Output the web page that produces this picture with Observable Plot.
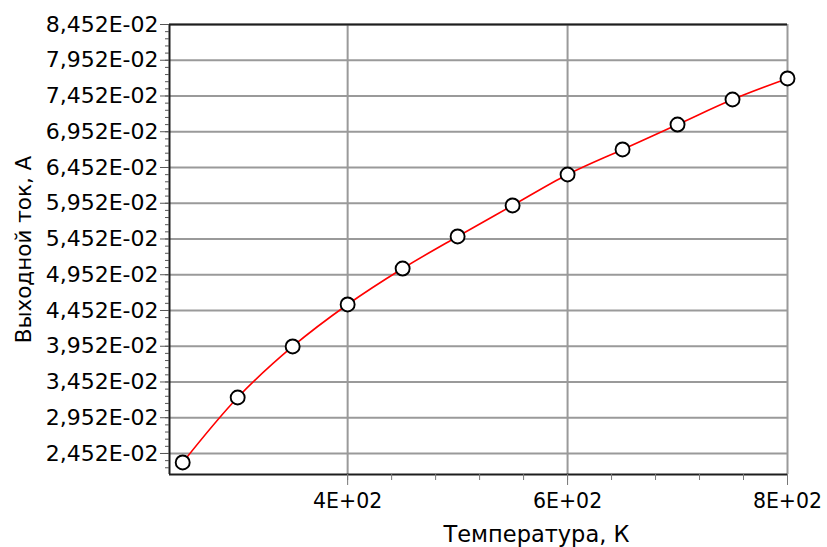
<!DOCTYPE html>
<html>
<head>
<meta charset="utf-8">
<script src="https://cdn.jsdelivr.net/npm/d3@7"></script>
<script src="https://cdn.jsdelivr.net/npm/@observablehq/plot@0.6"></script>
<style>
  html, body { margin: 0; padding: 0; background: #fff; }
  #chart svg { display: block; }
</style>
</head>
<body>
<div id="chart"></div>
<script>
// Data
const temperatureK = [250, 300, 350, 400, 450, 500, 550, 600, 650, 700, 750, 800];
const currentA = [0.02326, 0.03235, 0.03949, 0.04536, 0.05039, 0.05487, 0.05921, 0.06354, 0.06704, 0.07053, 0.07403, 0.07697];

const yTickValues = [0.02452, 0.02952, 0.03452, 0.03952, 0.04452, 0.04952, 0.05452, 0.05952, 0.06452, 0.06952, 0.07452, 0.07952, 0.08452];
const yTickLabels = ["2,452E-02", "2,952E-02", "3,452E-02", "3,952E-02", "4,452E-02", "4,952E-02", "5,452E-02", "5,952E-02", "6,452E-02", "6,952E-02", "7,452E-02", "7,952E-02", "8,452E-02"];
const xTickValues = [400, 600, 800];
const xTickLabels = ["4E+02", "6E+02", "8E+02"];

const xLabel = "Температура, К";
const yLabel = "Выходной ток, А";

const xDomain = [238, 800];
const yDomain = [0.02158, 0.08452];

const yMinor = d3.range(0.02252, 0.08452, 0.001).filter(v => v >= yDomain[0]);
const xMinor = d3.range(400, 801, 40);

const data = temperatureK.map((t, i) => ({t, c: currentA[i]}));
const yLab = new Map(yTickValues.map((v, i) => [v, yTickLabels[i]]));
const xLab = new Map(xTickValues.map((v, i) => [v, xTickLabels[i]]));

const font = "'DejaVu Sans', sans-serif";
const gridColor = "#9a9a9a";
const frameColor = "#1e1e1e";

const chart = Plot.plot({
  width: 827,
  height: 547,
  marginLeft: 169,
  marginRight: 40,
  marginTop: 24,
  marginBottom: 73,
  style: {fontFamily: font, fontSize: "20px", color: "#000", background: "#fff"},
  x: {domain: xDomain},
  y: {domain: yDomain},
  marks: [
    Plot.gridY(yTickValues, {stroke: gridColor, strokeOpacity: 1, strokeWidth: 2}),
    Plot.gridX(xTickValues, {stroke: gridColor, strokeOpacity: 1, strokeWidth: 2}),
    Plot.ruleY([yDomain[1]], {stroke: frameColor, strokeWidth: 2}),
    Plot.ruleY([yDomain[0]], {stroke: frameColor, strokeWidth: 2}),
    Plot.ruleX([xDomain[0]], {stroke: frameColor, strokeWidth: 2}),
    Plot.axisY({ticks: yMinor, tickSize: 4, tickFormat: () => "", label: null, stroke: "#555"}),
    Plot.axisY({ticks: yTickValues, tickSize: 9, tickPadding: 2, tickFormat: d => yLab.get(d), label: null, stroke: "#555", fontSize: 22}),
    Plot.axisX({ticks: xMinor, tickSize: 6, tickFormat: () => "", label: null, stroke: "#777"}),
    Plot.axisX({ticks: xTickValues, tickSize: 11, tickPadding: 8, tickFormat: d => xLab.get(d), label: null, stroke: "#777", fontSize: 20.5}),
    Plot.line(data, {x: "t", y: "c", curve: "catmull-rom", stroke: "#ff0000", strokeWidth: 1.6}),
    Plot.dot(data, {x: "t", y: "c", r: 7, fill: "#fff", stroke: "#000", strokeWidth: 1.9}),
    Plot.text([xLabel], {frameAnchor: "bottom", lineAnchor: "middle", textAnchor: "middle", dx: 58, dy: 60, fontSize: 22.5, fill: "#000"}),
    Plot.text([yLabel], {frameAnchor: "left", textAnchor: "middle", lineAnchor: "middle", dx: -145, rotate: -90, fontSize: 21.5, fill: "#000"})
  ]
});

document.getElementById("chart").appendChild(chart);
</script>
</body>
</html>
